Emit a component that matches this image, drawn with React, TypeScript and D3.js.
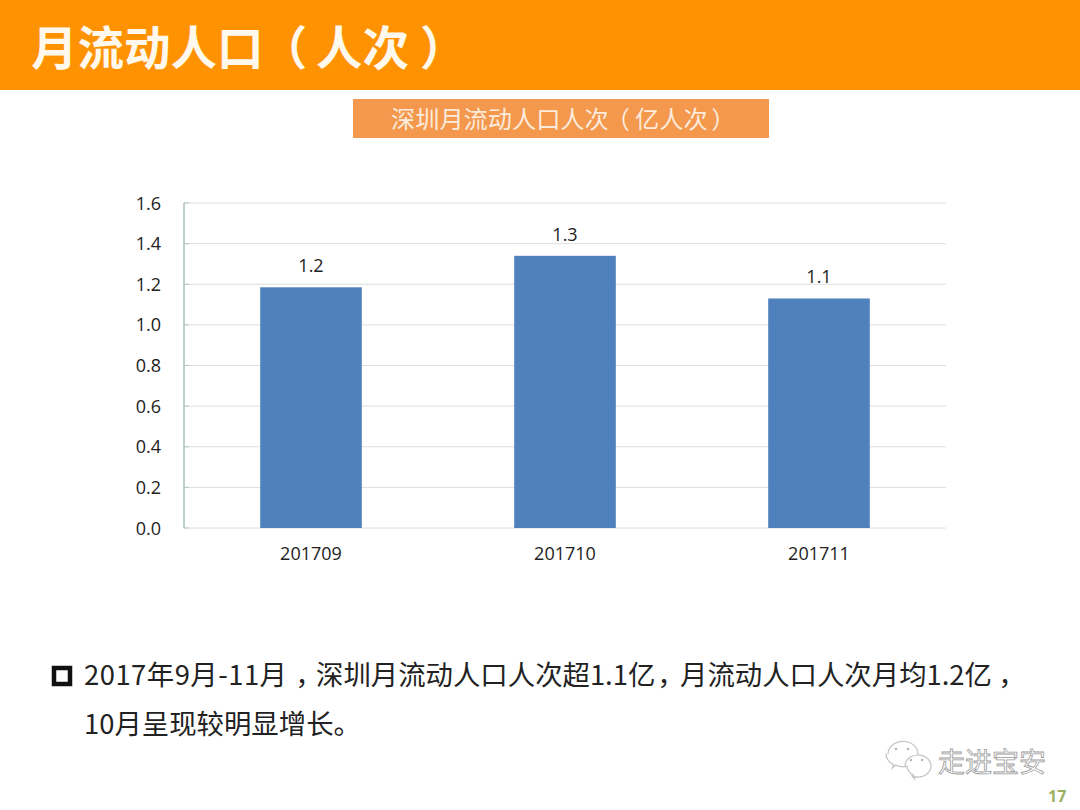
import React from "react";
import * as d3 from "d3";

const categories = ["201709", "201710", "201711"];
const values = [1.185, 1.34, 1.13];
const dataLabels = ["1.2", "1.3", "1.1"];
const yTicks = [0, 0.2, 0.4, 0.6, 0.8, 1.0, 1.2, 1.4, 1.6];

const titleMain = "月流动人口";
const titleInner = "人次";
const subtitleMain = "深圳月流动人口人次";
const subtitleInner = "亿人次";
const bodyParts1 = ["2017年9月-11月", "深圳月流动人口人次超1.1亿", "月流动人口人次月均1.2亿"];
const bodyLine2 = "10月呈现较明显增长。";
const watermark = "走进宝安";
const pageNumber = "17";

const CJK = '"Noto Sans CJK SC", "Noto Sans", sans-serif';
const LATIN = '"Open Sans", "Noto Sans CJK SC", sans-serif';
const palt = { fontFeatureSettings: '"palt"' };

export default function App() {
  const left = 184, right = 946, top = 203, bottom = 528;
  const x = d3.scaleBand<string>().domain(categories).range([left, right]).paddingInner(0.6).paddingOuter(0.3);
  const y = d3.scaleLinear().domain([0, 1.6]).range([bottom, top]);
  const bubble = (cx: number, cy: number, r: number, tailDir: number) =>
    `M${cx - r},${cy} a${r},${r * 0.85} 0 1 1 ${r * 0.5},${r * 0.74} l${tailDir * 3},3 l${-tailDir * 1},-3.5 a${r},${r * 0.85} 0 0 1 ${-r * 0.5},${-r * 0.74}`;
  const bodyFont = 27.4;
  return (
    <svg
      width={1080}
      height={810}
      style={{ position: "absolute", left: 0, top: 0, background: "#fff" }}
      fontFamily={CJK}
    >
      <rect x={0} y={0} width={1080} height={90} fill="#FF9200" />
      <text y={65} fontSize={46.5} fontWeight={700} fill="#FFF8EC">
        <tspan x={31}>{titleMain}</tspan>
        <tspan x={282} style={palt}>（</tspan>
        <tspan x={316}>{titleInner}</tspan>
        <tspan x={422} style={palt}>）</tspan>
      </text>

      <rect x={353} y={99} width={416} height={39} fill="#F3984D" />
      <text y={128} fontSize={24.2} fill="#FCEBDC">
        <tspan x={391}>{subtitleMain}</tspan>
        <tspan x={617} style={palt}>（</tspan>
        <tspan x={635}>{subtitleInner}</tspan>
        <tspan x={712} style={palt}>）</tspan>
      </text>

      {yTicks.map((t) => (
        <g key={t}>
          <line x1={184} x2={right} y1={y(t)} y2={y(t)} stroke="#D9E0DE" strokeWidth={1} />
          <line x1={184} x2={189} y1={y(t)} y2={y(t)} stroke="#B5C6C3" strokeWidth={1} />
          <text x={161} y={y(t) + 6.5} fontFamily={LATIN} fontSize={18} fill="#222" textAnchor="end">
            {t.toFixed(1)}
          </text>
        </g>
      ))}
      <line x1={184} x2={184} y1={top} y2={bottom} stroke="#A9BFBB" strokeWidth={1.5} />

      {categories.map((c, i) => (
        <g key={c}>
          <rect x={x(c)!} y={y(values[i])} width={x.bandwidth()} height={bottom - y(values[i])} fill="#4F81BD" />
          <text
            x={x(c)! + x.bandwidth() / 2}
            y={y(values[i]) - 15}
            fontFamily={LATIN}
            fontSize={18}
            fill="#222"
            textAnchor="middle"
          >
            {dataLabels[i]}
          </text>
          <text x={x(c)! + x.bandwidth() / 2} y={559.5} fontFamily={LATIN} fontSize={18} fill="#222" textAnchor="middle">
            {c}
          </text>
        </g>
      ))}

      <rect x={54} y={668} width={16} height={16} fill="none" stroke="#111" strokeWidth={4.5} />
      <g fontSize={bodyFont} fill="#222">
        <text y={685}>
          <tspan x={84} textLength={203} lengthAdjust="spacing">{bodyParts1[0]}</tspan>
          <tspan x={297} style={palt}>，</tspan>
          <tspan x={316}>{bodyParts1[1]}</tspan>
          <tspan x={659} style={palt}>，</tspan>
          <tspan x={680}>{bodyParts1[2]}</tspan>
          <tspan x={1000} style={palt}>，</tspan>
        </text>
        <text x={84} y={733.5}>{bodyLine2}</text>
      </g>

      <g fill="#fff" stroke="#C4C4C4" strokeWidth={1.2}>
        <path d={bubble(887, 758, 15, -1)} transform="translate(16,-4)" />
        <path d={bubble(905, 766, 13, 1)} transform="translate(13,0)" />
      </g>
      <g fill="#B5B5B5">
        <circle cx={896} cy={749} r={1.3} />
        <circle cx={908} cy={749} r={1.3} />
        <circle cx={911} cy={760} r={1.2} />
        <circle cx={922} cy={760} r={1.2} />
      </g>
      <text x={938} y={772} fontSize={27} fill="#fff" stroke="#9A9A9A" strokeWidth={0.8}>
        {watermark}
      </text>
      <text x={1048} y={802} fontFamily={LATIN} fontSize={16} fontWeight={700} fill="#9BB061">
        {pageNumber}
      </text>
    </svg>
  );
}
